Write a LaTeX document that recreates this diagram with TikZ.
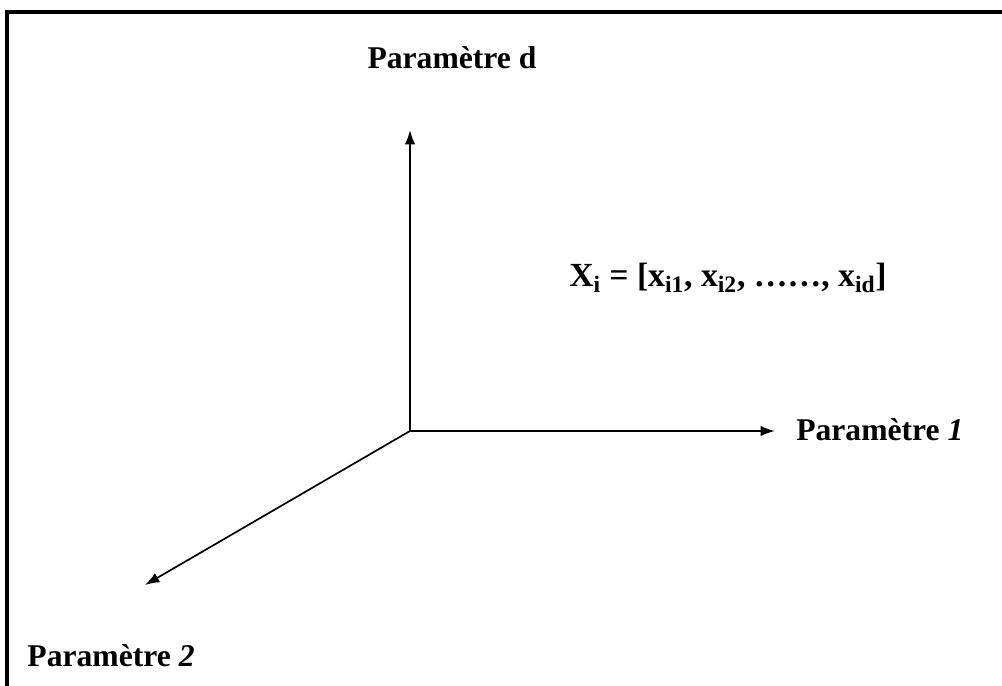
\documentclass[tikz,border=0pt]{standalone}
\usepackage{fontspec}
\setmainfont{Liberation Serif}
\usepackage{tikz}
\usetikzlibrary{positioning,arrows.meta}
\tikzset{
  axisarrow/.style={-{Latex[length=3.6mm, width=2.6mm]}, line width=1.2pt},
  framerule/.style={line width=2.2pt},
  axislabel/.style={font=\bfseries\fontsize{22.5}{26}\selectfont, inner sep=0pt},
  vectlabel/.style={font=\bfseries\fontsize{24}{28}\selectfont, inner sep=0pt}
}

\begin{document}
\begin{tikzpicture}
      \useasboundingbox (0,0) rectangle (25.05,17.15);
      \draw[framerule] (0.175,0) -- (0.175,16.85) -- (25.05,16.85);
      \coordinate (o) at (10.25,6.375);
      \coordinate (pd) at (10.25,13.9);
      \coordinate (p1) at (19.375,6.375);
      \coordinate (p2) at (3.625,2.525);
      \draw[axisarrow] (o) -- (pd);
      \draw[axisarrow] (o) -- (p1);
      \draw[axisarrow] (o) -- (p2);
      \node[axislabel] (lbd) at (11.3,15.72) {Paramètre d};
      \node[axislabel, anchor=west] (lb1) at (19.9,6.4) {Paramètre \textit{1}};
      \node[axislabel, anchor=west] (lb2) at (0.68,0.75) {Paramètre \textit{2}};
      \node[vectlabel] (vec) at (18.2,10.2) {X\textsubscript{i} = [x\textsubscript{i1}, x\textsubscript{i2}, ……, x\textsubscript{id}]};
    \end{tikzpicture}
\end{document}
